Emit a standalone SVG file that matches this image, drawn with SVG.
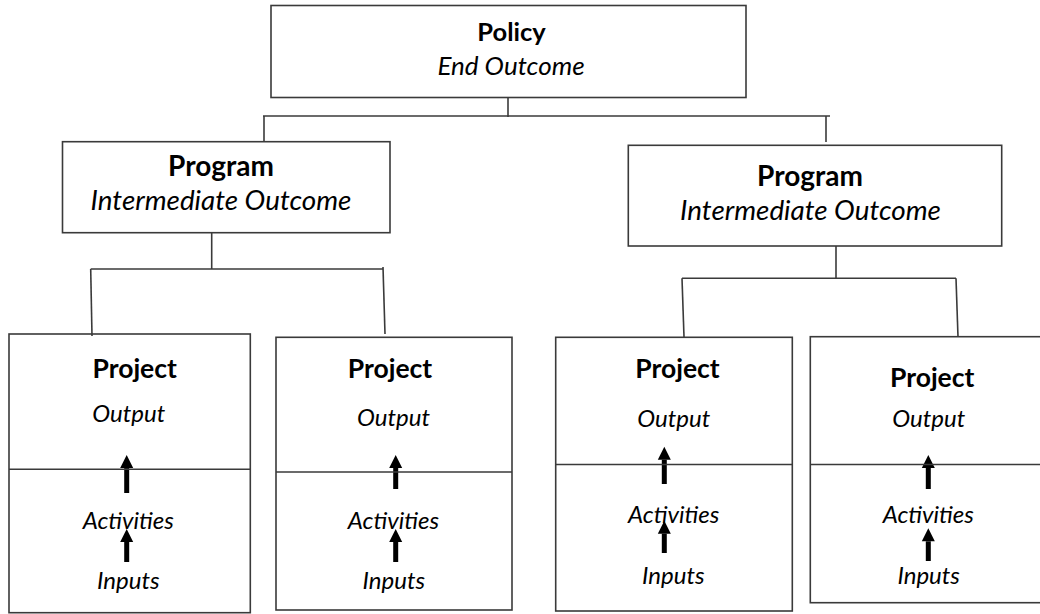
<svg xmlns="http://www.w3.org/2000/svg" width="1040" height="614" viewBox="0 0 1040 614">
  <style>
    .box { fill: #ffffff; stroke: #3a3a3a; stroke-width: 1.6; }
    .div { stroke: #3a3a3a; stroke-width: 1.6; fill: none; }
    .wire { stroke: #3a3a3a; stroke-width: 1.6; fill: none; }
    .flow { stroke: #000000; stroke-width: 5; fill: none; marker-end: url(#head); }
    .title { font-family: Lato, "Liberation Sans", sans-serif; font-weight: bold; font-size: 26.5px; fill: #000; text-anchor: middle; }
    .policy { font-size: 25.5px; }
    .prog { font-size: 28px; }
    .sub { font-family: Lato, "Liberation Sans", sans-serif; font-style: italic; font-size: 26px; fill: #000; text-anchor: middle; }
    .mid { font-size: 27.8px; }
    .small { font-family: Lato, "Liberation Sans", sans-serif; font-style: italic; font-size: 24px; fill: #000; text-anchor: middle; }
  </style>
  <defs>
    <marker id="head" markerUnits="userSpaceOnUse" markerWidth="13" markerHeight="13" viewBox="0 -6.5 13 13" refX="0" refY="0" orient="auto" overflow="visible">
      <path d="M0,-6.5 L13,0 L0,6.5 z" fill="#000"/>
    </marker>
  </defs>

  <rect width="1040" height="614" fill="#ffffff"/>

  <!-- tree wiring -->
  <g id="connectors">
    <path class="wire" d="M508,97 V117"/>
    <path class="wire" d="M263,116 H830"/>
    <path class="wire" d="M264,116 V146"/>
    <path class="wire" d="M826,116 V142"/>
    <path class="wire" d="M211.7,233 V269"/>
    <path class="wire" d="M90.7,269 H383"/>
    <path class="wire" d="M90.7,269 L92,336"/>
    <path class="wire" d="M383,267 L385,334"/>
    <path class="wire" d="M836,243 V278.3"/>
    <path class="wire" d="M682,278.3 H956"/>
    <path class="wire" d="M682,278.3 L684,337"/>
    <path class="wire" d="M956,278.3 L958,337"/>
    <!-- inputs -> activities -> output -->
    <line class="flow" x1="126.7" y1="493" x2="126.7" y2="468"/>
    <line class="flow" x1="126.7" y1="562" x2="126.7" y2="542"/>
    <line class="flow" x1="395.7" y1="489" x2="395.7" y2="468"/>
    <line class="flow" x1="395.7" y1="562" x2="395.7" y2="542"/>
    <line class="flow" x1="664.3" y1="484" x2="664.3" y2="459.7"/>
    <line class="flow" x1="664.3" y1="553" x2="664.3" y2="533.7"/>
    <line class="flow" x1="928.3" y1="489" x2="928.3" y2="468"/>
    <line class="flow" x1="928.3" y1="561" x2="928.3" y2="541.3"/>
  </g>

  <g id="policy">
    <rect class="box" x="271" y="5.5" width="475" height="92"/>
    <text class="title policy" x="511.5" y="40.5">Policy</text>
    <text class="sub" x="511" y="75">End Outcome</text>
  </g>

  <g id="program-left">
    <rect class="box" x="62.5" y="141.7" width="327.5" height="91"/>
    <text class="title prog" x="221" y="176">Program</text>
    <text class="sub mid" x="221" y="210">Intermediate Outcome</text>
  </g>

  <g id="program-right">
    <rect class="box" x="628.3" y="145.3" width="373.4" height="100.7"/>
    <text class="title prog" x="810" y="186">Program</text>
    <text class="sub mid" x="810.5" y="220">Intermediate Outcome</text>
  </g>

  <g id="project-1">
    <rect class="box" x="9" y="334" width="241.3" height="278.7" fill-opacity="0"/>
    <path class="div" d="M9,469.3 H250.3"/>
    <text class="title" x="134.7" y="378.3">Project</text>
    <text class="small" x="128.8" y="421.7">Output</text>
    <text class="small" x="128.3" y="529">Activities</text>
    <text class="small" x="128.3" y="589">Inputs</text>
  </g>

  <g id="project-2">
    <rect class="box" x="276" y="337.3" width="236" height="272.7" fill-opacity="0"/>
    <path class="div" d="M276,472 H512"/>
    <text class="title" x="390" y="378.3">Project</text>
    <text class="small" x="393.5" y="426">Output</text>
    <text class="small" x="393.5" y="529">Activities</text>
    <text class="small" x="393.8" y="589">Inputs</text>
  </g>

  <g id="project-3">
    <rect class="box" x="555.7" y="337.3" width="236.6" height="273.7" fill-opacity="0"/>
    <path class="div" d="M555.7,464.5 H792.3"/>
    <text class="title" x="677.5" y="378.3">Project</text>
    <text class="small" x="673.7" y="426.7">Output</text>
    <text class="small" x="673.7" y="523.3">Activities</text>
    <text class="small" x="673.3" y="584">Inputs</text>
  </g>

  <g id="project-4">
    <rect class="box" x="810.3" y="336.7" width="240" height="266" fill-opacity="0"/>
    <path class="div" d="M810.3,464.5 H1050"/>
    <text class="title" x="932.2" y="387.3">Project</text>
    <text class="small" x="928.7" y="426.7">Output</text>
    <text class="small" x="928.3" y="523.3">Activities</text>
    <text class="small" x="928.7" y="584">Inputs</text>
  </g>
</svg>
